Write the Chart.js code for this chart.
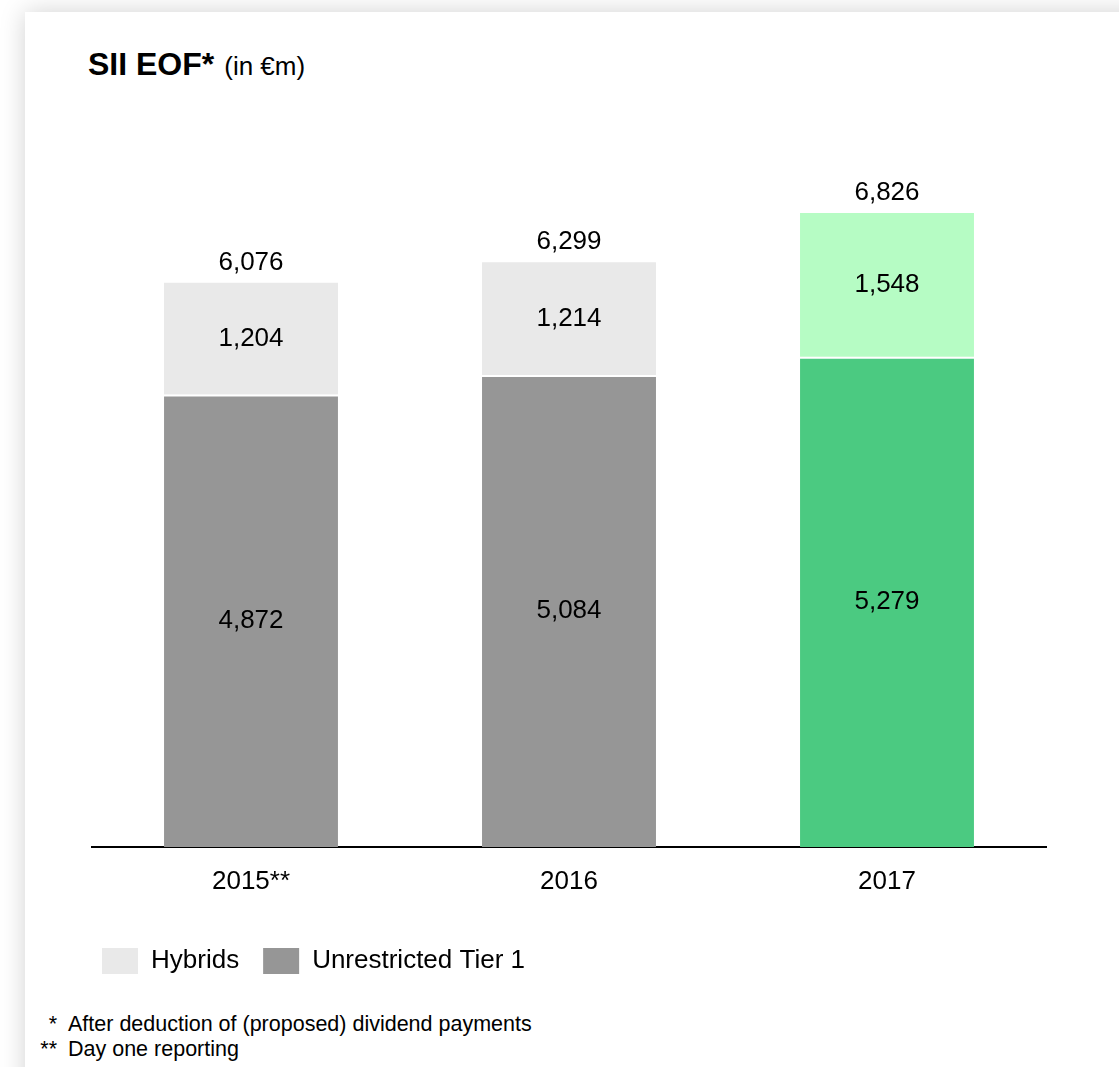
<!DOCTYPE html>
<html>
<head>
<meta charset="utf-8">
<script src="https://cdn.jsdelivr.net/npm/chart.js"></script>
<style>
  html, body { margin: 0; padding: 0; background: #fff; overflow: hidden; }
  body { width: 1119px; height: 1067px; position: relative; font-family: "Liberation Sans", Arial, sans-serif; color: #000; }
  .card { position: absolute; left: 25px; top: 12px; width: 1300px; height: 1300px; background: #fff; box-shadow: 0 0 24px rgba(0,0,0,0.18); }
  .title { position: absolute; left: 88px; top: 48px; font-size: 32px; line-height: 32px; font-weight: bold; white-space: nowrap; }
  .title span { font-weight: normal; font-size: 26px; margin-left: 10px; }
  #wrap { position: absolute; left: 0; top: 0; width: 1119px; height: 984px; }
  .notes { position: absolute; left: 30px; top: 1012px; font-size: 21.5px; line-height: 25px; }
  .notes div { white-space: nowrap; }
  .notes b { display: inline-block; width: 27px; text-align: right; font-weight: normal; margin-right: 11px; }
</style>
</head>
<body>
<div class="card"></div>
<div class="title">SII EOF*<span>(in €m)</span></div>
<div id="wrap"><canvas id="eofChart"></canvas></div>
<div class="notes">
  <div><b>*</b>After deduction of (proposed) dividend payments</div>
  <div><b>**</b>Day one reporting</div>
</div>
<script>
// Eligible own funds per year, stacked
const years = ["2015**", "2016", "2017"];
const unrestrictedTier1 = [4872, 5084, 5279];
const hybrids = [1204, 1214, 1548];
const totals = [6076, 6299, 6826];

const greyDark = ["#969696", "#969696", "#4bca81"];
const greyLight = ["#e9e9e9", "#e9e9e9", "#b6fcc4"];
const fontFamily = "'Liberation Sans', Arial, sans-serif";

const fmt = v => v.toLocaleString("en-US");

// writes segment values inside the bars and the totals above them
const valueLabels = {
  id: "valueLabels",
  afterDatasetsDraw(chart) {
    const ctx = chart.ctx;
    ctx.save();
    ctx.font = "26px " + fontFamily;
    ctx.fillStyle = "#000";
    ctx.textAlign = "center";
    ctx.textBaseline = "middle";
    chart.data.datasets.forEach((ds, i) => {
      chart.getDatasetMeta(i).data.forEach((bar, j) => {
        ctx.fillText(fmt(ds.data[j]), bar.x, (bar.y + bar.base) / 2);
      });
    });
    const top = chart.getDatasetMeta(chart.data.datasets.length - 1).data;
    top.forEach((bar, j) => {
      ctx.fillText(fmt(totals[j]), bar.x, bar.y - 20);
    });
    ctx.restore();
  }
};

new Chart("eofChart", {
  type: "bar",
  data: {
    labels: years,
    datasets: [
      {
        label: "Unrestricted Tier 1",
        data: unrestrictedTier1,
        backgroundColor: greyDark,
        borderColor: "#fff",
        borderWidth: { top: 2, left: 0, right: 0, bottom: 0 },
        borderSkipped: false
      },
      {
        label: "Hybrids",
        data: hybrids,
        backgroundColor: greyLight,
        borderWidth: 0
      }
    ]
  },
  options: {
    responsive: true,
    maintainAspectRatio: false,
    animation: false,
    layout: { padding: { top: 197, left: 78, right: 73, bottom: 0 } },
    datasets: { bar: { categoryPercentage: 1, barPercentage: 0.547 } },
    scales: {
      x: {
        stacked: true,
        grid: { display: false },
        border: { display: true, color: "#000", width: 2 },
        ticks: { color: "#000", padding: 11, font: { family: fontFamily, size: 26 } },
        afterFit(scale) { scale.height = 77; }
      },
      y: {
        stacked: true,
        min: 0,
        max: 7000,
        grid: { display: false },
        border: { display: false },
        ticks: { display: false },
        afterFit(scale) { scale.width = 14; }
      }
    },
    plugins: {
      title: { display: false },
      tooltip: { enabled: false },
      legend: {
        position: "bottom",
        align: "start",
        labels: {
          boxWidth: 36,
          boxHeight: 26,
          padding: 24,
          color: "#000",
          font: { family: fontFamily, size: 26 },
          generateLabels(chart) {
            // legend order: Hybrids first, colours taken from the grey bars
            return [
              { text: "Hybrids", fillStyle: greyLight[0], strokeStyle: greyLight[0], lineWidth: 0, datasetIndex: 1 },
              { text: "Unrestricted Tier 1", fillStyle: greyDark[0], strokeStyle: greyDark[0], lineWidth: 0, datasetIndex: 0 }
            ];
          }
        }
      }
    }
  },
  plugins: [valueLabels]
});
</script>
</body>
</html>
